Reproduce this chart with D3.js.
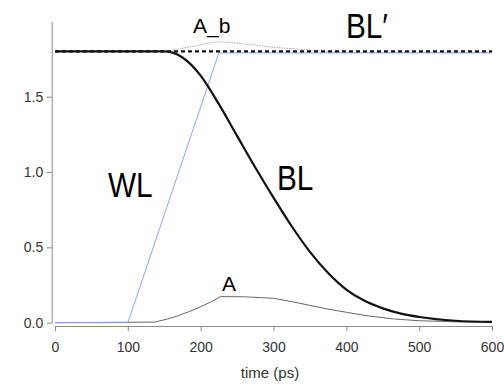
<!DOCTYPE html>
<html>
<head>
<meta charset="utf-8">
<script src="https://cdn.jsdelivr.net/npm/d3@7"></script>
<style>
  body { margin: 0; background: #fff; }
  text { font-family: "Liberation Sans", Arial, sans-serif; }
</style>
</head>
<body>
<div id="chart"></div>
<script>
// temps (ps) et tensions
const blTime = [0, 150, 175, 200, 225, 250, 275, 300, 325, 350, 375, 400, 425, 450, 475, 500, 550, 600];
const blVal  = [1.8, 1.8, 1.76, 1.64, 1.45, 1.24, 1.03, 0.83, 0.64, 0.47, 0.33, 0.22, 0.145, 0.095, 0.06, 0.038, 0.013, 0.005];

const wlTime = [0, 100, 225, 600];
const wlVal  = [0, 0, 1.79, 1.79];

const blpTime = [0, 600];
const blpVal  = [1.8, 1.8];

const abTime = [0, 145, 185, 226, 260, 295, 350, 400, 600];
const abVal  = [1.8, 1.8, 1.83, 1.862, 1.85, 1.83, 1.81, 1.795, 1.795];

const aTime = [0, 137, 155, 170, 185, 200, 215, 227, 260, 300, 325, 350, 375, 400, 430, 465, 500, 550, 600];
const aVal  = [0, 0.004, 0.025, 0.048, 0.075, 0.106, 0.14, 0.173, 0.172, 0.162, 0.14, 0.115, 0.09, 0.069, 0.045, 0.025, 0.013, 0.006, 0.003];

const xTicks = [0, 100, 200, 300, 400, 500, 600];
const yTicks = [0, 0.5, 1.0, 1.5];

var width = 504;
var height = 385;

var svg = d3.select("#chart").append("svg")
  .attr("width", width)
  .attr("height", height);

var x = d3.scaleLinear().domain([0, 600]).range([55, 492]);
var y = d3.scaleLinear().domain([0, 2]).range([322.7, 21.3]);

// axe des x
var gx = svg.append("g")
  .attr("transform", "translate(0,326)")
  .call(d3.axisBottom(x).tickValues(xTicks).tickSize(5).tickSizeOuter(0));
gx.selectAll("text").attr("dy", null).attr("y", 26);

// axe des y
var gy = svg.append("g")
  .attr("transform", "translate(51.7,0)")
  .call(d3.axisLeft(y).tickValues(yTicks).tickFormat(d3.format(".1f"))
    .tickSize(5).tickPadding(3.5).tickSizeOuter(0));

svg.selectAll(".domain, .tick line").attr("stroke", "#8a8a8a");
svg.selectAll(".tick text").attr("font-size", 14).attr("fill", "#333")
  .style("font-family", '"Liberation Sans", Arial, sans-serif');

svg.append("text")
  .attr("x", 270).attr("y", 378)
  .attr("text-anchor", "middle")
  .attr("font-size", 15).attr("fill", "#333")
  .text("time (ps)");

function zipper(t, v) {
  return t.map(function (d, i) { return [d, v[i]]; });
}

var line = d3.line()
  .x(function (d) { return x(d[0]); })
  .y(function (d) { return y(d[1]); });
var smooth = d3.line()
  .x(function (d) { return x(d[0]); })
  .y(function (d) { return y(d[1]); })
  .curve(d3.curveMonotoneX);

// A
svg.append("path").datum(zipper(aTime, aVal))
  .attr("d", line).attr("fill", "none")
  .attr("stroke", "#666").attr("stroke-width", 1);

// A_b
svg.append("path").datum(zipper(abTime, abVal))
  .attr("d", smooth).attr("fill", "none")
  .attr("stroke", "#aaa").attr("stroke-width", 1)
  .attr("stroke-dasharray", "1.5,1");

// WL
svg.append("path").datum(zipper(wlTime, wlVal))
  .attr("d", line).attr("fill", "none")
  .attr("stroke", "#95a4f2").attr("stroke-width", 1);

// BL
svg.append("path").datum(zipper(blTime, blVal))
  .attr("d", smooth).attr("fill", "none")
  .attr("stroke", "#111").attr("stroke-width", 2.2);

// BL'
svg.append("path").datum(zipper(blpTime, blpVal))
  .attr("d", line).attr("fill", "none")
  .attr("stroke", "#111").attr("stroke-width", 2.2)
  .attr("stroke-dasharray", "4,3");

// etiquettes
function label(txt, px, py, size, sx) {
  svg.append("text")
    .attr("transform", "translate(" + px + "," + py + ") scale(" + sx + ",1)")
    .attr("font-size", size)
    .attr("fill", "#000")
    .text(txt);
}
label("A_b", 193, 33, 20, 1.05);
label("A", 222, 291, 20, 1.05);
label("BL\u2032", 346, 38, 35, 0.85);
label("WL", 108, 197, 35, 0.85);
label("BL", 277, 190, 35, 0.85);
</script>
</body>
</html>
